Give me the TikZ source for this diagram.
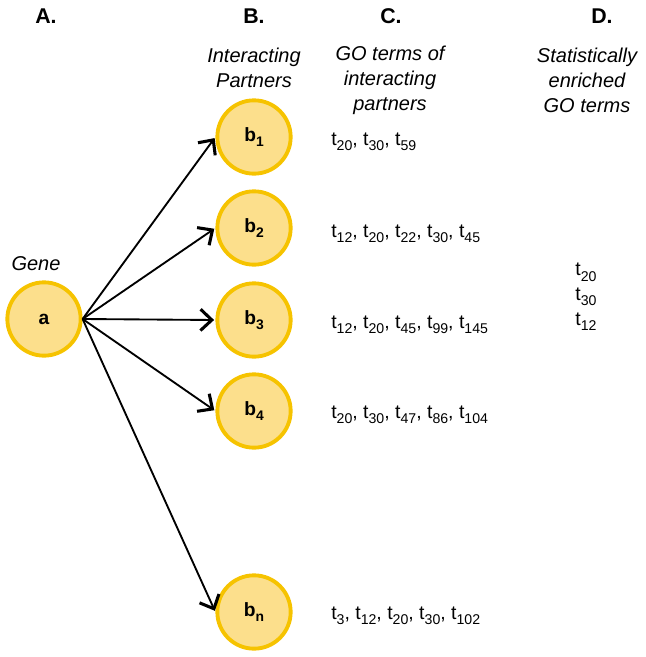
\documentclass[tikz,border=0pt]{standalone}
\usepackage{fontspec}
\setmainfont{Liberation Sans}
\usetikzlibrary{arrows.meta,positioning}

\newcommand{\ts}[1]{t\raisebox{-0.5ex}{\fontsize{10.6}{11}\selectfont #1}}
\newcommand{\bs}[1]{\textbf{b\raisebox{-0.5ex}{\fontsize{10.4}{11}\selectfont #1}}}

\tikzset{
  gene/.style={circle,draw=gold,fill=lightgold,line width=2.9pt,minimum size=55pt,inner sep=0pt,font=\fontsize{14.4}{16}\selectfont\bfseries},
  head/.style={font=\fontsize{16}{18}\selectfont\bfseries},
  caption/.style={font=\fontsize{15}{18.8}\selectfont\itshape,align=center},
  terms/.style={font=\fontsize{14.6}{16}\selectfont,anchor=west,inner sep=0pt},
  link/.style={line width=1.4pt,shorten >=1pt,-{Straight Barb[length=8.5pt,width=16pt,line width=2.3pt]}}
}
\definecolor{gold}{HTML}{F6C300}
\definecolor{lightgold}{HTML}{FCDF8C}

\begin{document}
\begin{tikzpicture}[x=0.75pt,y=-0.75pt]
	\useasboundingbox (0,0) rectangle (646,657);
	% column heads
	\node[head] (hA) at (46,16) {A.};
	\node[head] (hB) at (254,16) {B.};
	\node[head] (hC) at (391,16) {C.};
	\node[head] (hD) at (602,16) {D.};
	\node[caption] (capB) at (254,68) {Interacting\\Partners};
	\node[caption] (capC) at (390,80) {GO terms of\\interacting\\partners};
	\node[caption] (capD) at (587,80) {Statistically\\enriched\\GO terms};
	% nodes
	\node[gene] (a) at (44,319) {a};
	\node[caption] (gene) at (36,264) {Gene};
	\node[gene] (b1) at (254,137) {\bs{1}};
	\node[gene] (b2) at (254,228) {\bs{2}};
	\node[gene] (b3) at (254,320) {\bs{3}};
	\node[gene] (b4) at (254,411) {\bs{4}};
	\node[gene] (bn) at (254,612) {\bs{n}};
	% edges
	\path[link]
	(a.east) edge (b1.west)
	(a.east) edge (b2.west)
	(a.east) edge (b3.west)
	(a.east) edge (b4.west)
	(a.east) edge (bn.west);
	% GO terms
	\node[terms] (t1) at (331,142) {\ts{20}, \ts{30}, \ts{59}};
	\node[terms] (t2) at (331,234) {\ts{12}, \ts{20}, \ts{22}, \ts{30}, \ts{45}};
	\node[terms] (t3) at (331,325) {\ts{12}, \ts{20}, \ts{45}, \ts{99}, \ts{145}};
	\node[terms] (t4) at (331,415) {\ts{20}, \ts{30}, \ts{47}, \ts{86}, \ts{104}};
	\node[terms] (tn) at (331,616) {\ts{3}, \ts{12}, \ts{20}, \ts{30}, \ts{102}};
	\node[caption,font=\fontsize{14.6}{18.6}\selectfont] (enr) at (586,297) {\ts{20}\\\ts{30}\\\ts{12}};
\end{tikzpicture}
\end{document}
